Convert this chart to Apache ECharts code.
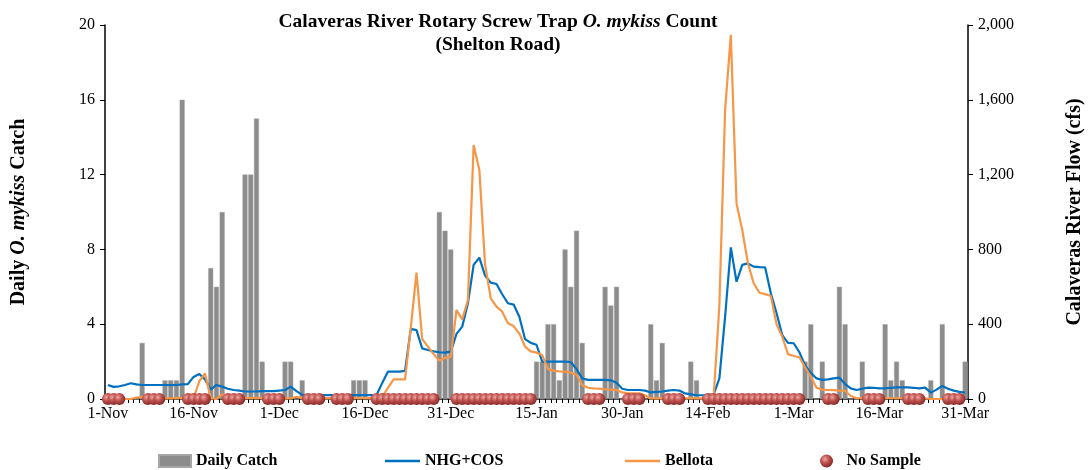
<!DOCTYPE html>
<html>
<head>
<meta charset="utf-8">
<script src="https://cdn.jsdelivr.net/npm/echarts@6/dist/echarts.min.js"></script>
<style>
html,body{margin:0;padding:0;background:#fff;}
#chart{width:1089px;height:470px;}
</style>
</head>
<body>
<div id="chart"></div>
<script>
// Months of the season (month label, number of days) -> daily category labels
const months = [['Nov', 30], ['Dec', 31], ['Jan', 31], ['Feb', 28], ['Mar', 31]];
const categories = [];
months.forEach(([m, n]) => { for (let d = 1; d <= n; d++) categories.push(d + '-' + m); });

// Daily O. mykiss catch (1-Nov .. 31-Mar)
const dailyCatch = [
  0,0,0,0,0,0,3,0,0,0,
  1,1,1,16,0,0,0,0,7,6,
  10,0,0,0,12,12,15,2,0,0,
  0,2,2,0,1,0,0,0,0,0,
  0,0,0,1,1,1,0,0,0,0,
  0,0,0,0,0,0,0,0,10,9,
  8,0,0,0,0,0,0,0,0,0,
  0,0,0,0,0,2,2,4,4,1,
  8,6,9,3,0,0,0,6,5,6,
  0,0,0,0,0,4,1,3,0,0,
  0,0,2,1,0,0,0,0,0,0,
  0,0,0,0,0,0,0,0,0,0,
  0,0,2,4,0,2,0,0,6,4,
  0,0,2,0,0,0,4,1,2,1,
  0,0,0,0,1,0,4,0,0,0,
  2
];

// Calaveras River flow (cfs) at NHG+COS
const flowNHG = [
  75,65,68,75,84,78,75,75,75,75,
  75,74,75,78,80,118,134,105,50,75,
  66,55,48,45,40,40,40,42,42,42,
  45,48,66,42,22,21,21,21,21,21,
  21,21,21,21,21,21,21,21,85,146,
  146,146,150,375,368,271,262,255,250,248,
  253,348,387,512,717,756,660,622,615,560,
  512,505,440,320,300,290,200,200,200,200,
  200,198,160,110,102,102,102,102,100,87,
  55,48,48,48,45,35,38,40,45,48,
  45,30,25,20,20,21,25,110,440,811,
  627,717,725,708,705,704,565,460,342,300,
  298,250,180,140,110,102,105,110,114,80,
  57,48,55,61,60,57,57,60,62,62,
  62,60,57,61,34,50,70,55,45,38,
  34
];

// Calaveras River flow (cfs) at Bellota
const flowBellota = [
  5,5,5,0,0,8,10,8,5,5,
  3,3,5,5,5,5,95,137,5,0,
  25,5,5,5,5,5,5,5,5,5,
  5,3,3,12,5,5,5,5,5,5,
  5,5,5,5,5,5,5,5,10,60,
  105,105,105,380,676,320,280,240,205,220,
  225,476,426,529,1358,1225,720,538,494,467,
  405,390,350,280,255,248,235,160,152,148,
  146,140,130,75,60,57,55,52,50,48,
  35,30,30,30,20,3,3,3,3,3,
  3,3,3,3,3,3,12,500,1545,1947,
  1046,904,725,619,568,561,551,400,333,240,
  230,223,170,119,60,50,48,47,45,44,
  16,4,4,4,4,4,4,4,4,4,
  4,4,4,4,0,0,0,0,0,0,
  0
];

// Days (index from 1-Nov) with no sample
const noSampleDays = [
  0,1,2, 7,8,9, 14,15,16,17, 21,22,23, 28,29,30, 35,36,37, 40,41,42,
  47,48,49,50,51,52,53,54,55,56,57,
  61,62,63,64,65,66,67,68,69,70,71,72,73,74,
  84,85,86, 91,92,93, 98,99,100,
  105,106,107,108,109,110,111,112,113,114,115,116,117,118,119,120,121,
  126,127, 133,134,135, 140,141,142, 147,148,149
];

const SERIF = '"Liberation Serif", "Times New Roman", serif';
const chart = echarts.init(document.getElementById('chart'), null, {renderer: 'canvas'});

const sphere = new echarts.graphic.RadialGradient(0.38, 0.35, 0.7, [
  {offset: 0, color: '#eaa8a3'},
  {offset: 0.45, color: '#c0504d'},
  {offset: 1, color: '#7a2724'}
]);

const legendText = {fontFamily: SERIF, fontWeight: 'bold', fontSize: 16, color: '#000'};

const option = {
  animation: false,
  backgroundColor: '#fff',
  grid: {left: 105, right: 121, top: 25, bottom: 71, containLabel: false},
  graphic: [
    {
      type: 'text', x: 498, y: 10,
      style: {
        text: '{b|Calaveras River Rotary Screw Trap }{i|O. mykiss}{b| Count}\n{b|(Shelton Road)}',
        align: 'center', verticalAlign: 'top', fill: '#000',
        rich: {
          b: {fontFamily: SERIF, fontWeight: 'bold', fontSize: 19.5, lineHeight: 23, align: 'center'},
          i: {fontFamily: SERIF, fontWeight: 'bold', fontStyle: 'italic', fontSize: 19.5, lineHeight: 23, align: 'center'}
        }
      }
    },
    {
      type: 'text', x: 19, y: 212, rotation: Math.PI / 2,
      style: {
        text: '{b|Daily }{i|O. mykiss}{b| Catch}',
        align: 'center', verticalAlign: 'middle', fill: '#000',
        rich: {
          b: {fontFamily: SERIF, fontWeight: 'bold', fontSize: 20},
          i: {fontFamily: SERIF, fontWeight: 'bold', fontStyle: 'italic', fontSize: 20}
        }
      }
    },
    {
      type: 'text', x: 1075, y: 212, rotation: Math.PI / 2,
      style: {
        text: 'Calaveras River Flow (cfs)',
        align: 'center', verticalAlign: 'middle', fill: '#000',
        font: 'bold 20px ' + SERIF
      }
    }
  ],
  legend: [
    {data: ['Daily Catch'], left: 153, top: 448, icon: 'rect', itemWidth: 32, itemHeight: 12, textStyle: legendText, selectedMode: false},
    {data: ['NHG+COS'], left: 380, top: 448, icon: 'rect', itemWidth: 35, itemHeight: 2.5, textStyle: legendText, selectedMode: false},
    {data: ['Bellota'], left: 620, top: 448, icon: 'rect', itemWidth: 35, itemHeight: 2.5, textStyle: legendText, selectedMode: false},
    {data: ['No Sample'], left: 815, top: 448, icon: 'circle', itemWidth: 30, itemHeight: 13, textStyle: legendText, selectedMode: false}
  ],
  xAxis: {
    type: 'category',
    data: categories,
    boundaryGap: true,
    axisLine: {show: true, lineStyle: {color: '#000', width: 1.5}},
    axisTick: {show: true, interval: 0, length: 4, lineStyle: {color: '#000'}},
    axisLabel: {interval: 14, fontFamily: SERIF, fontSize: 16, color: '#000', margin: 7},
    splitLine: {show: false}
  },
  yAxis: [
    {
      type: 'value', min: 0, max: 20, interval: 4,
      axisLine: {show: true, lineStyle: {color: '#000', width: 1.5}},
      axisTick: {show: true, length: 5, lineStyle: {color: '#000'}},
      axisLabel: {fontFamily: SERIF, fontSize: 16, color: '#000', margin: 10},
      splitLine: {show: false}
    },
    {
      type: 'value', min: 0, max: 2000, interval: 400, position: 'right',
      axisLine: {show: true, lineStyle: {color: '#000', width: 1.5}},
      axisTick: {show: true, length: 5, lineStyle: {color: '#000'}},
      axisLabel: {fontFamily: SERIF, fontSize: 16, color: '#000', margin: 10,
        formatter: v => v.toLocaleString('en-US')},
      splitLine: {show: false}
    }
  ],
  series: [
    {
      name: 'Daily Catch', type: 'bar', yAxisIndex: 0, data: dailyCatch,
      barCategoryGap: '12%',
      itemStyle: {color: '#8c8c8c', borderColor: '#a6a6a6', borderWidth: 0.5}
    },
    {
      name: 'NHG+COS', type: 'line', yAxisIndex: 1, data: flowNHG,
      symbol: 'none', lineStyle: {color: '#0070c0', width: 2.2}, itemStyle: {color: '#0070c0'}
    },
    {
      name: 'Bellota', type: 'line', yAxisIndex: 1, data: flowBellota,
      symbol: 'none', lineStyle: {color: '#f79646', width: 2.2}, itemStyle: {color: '#f79646'}
    },
    {
      name: 'No Sample', type: 'scatter', yAxisIndex: 0,
      data: noSampleDays.map(d => [d, 0]),
      symbol: 'circle', symbolSize: 12,
      itemStyle: {color: sphere, opacity: 1},
      z: 5
    }
  ]
};
chart.setOption(option);
</script>
</body>
</html>
